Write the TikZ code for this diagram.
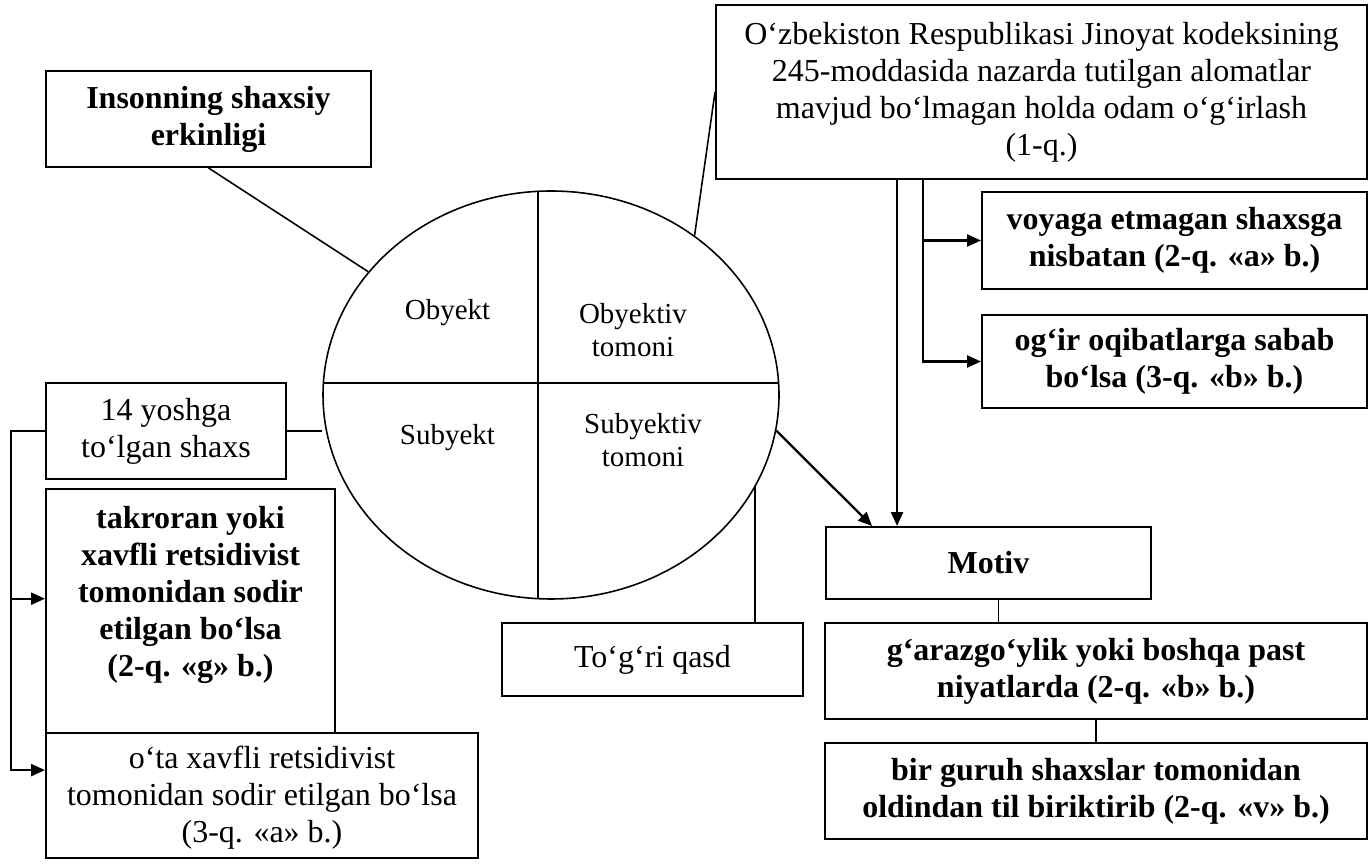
\documentclass[tikz,border=0pt]{standalone}
\usepackage{fontspec}
\setmainfont{Liberation Serif}
\usetikzlibrary{arrows.meta, calc, shapes.geometric}

\newcommand{\boxfont}{\fontsize{18.2}{21}\selectfont}
\newcommand{\partfont}{\fontsize{16.5}{19}\selectfont}

\begin{document}
\begin{tikzpicture}[>={Triangle[length=2.8mm,width=2.4mm]}, line width=0.9pt,
    box/.style={draw, line width=1.1pt, align=center, inner sep=0pt, font=\boxfont},
    bbox/.style={box, font=\boxfont\bfseries},
    quarter/.style={align=center, font=\partfont},
    arr/.style={->, line width=1.3pt}]
  \useasboundingbox (0,0) rectangle (27.4,17.32);

  % tarkib doirasi
  \node[draw, ellipse, minimum width=9.12cm, minimum height=8.16cm, inner sep=0pt] (ell) at (11.02,9.42) {};
  \draw (6.47,9.66) -- (15.57,9.66);
  \draw (10.76,13.49) -- (10.76,5.35);
  \node[quarter] (obj) at (8.95,11.06) {Obyekt};
  \node[quarter] (objside) at (12.66,10.72) {Obyektiv\\tomoni};
  \node[quarter] (sub) at (8.95,8.56) {Subyekt};
  \node[quarter] (subside) at (12.86,8.52) {Subyektiv\\tomoni};

  % bloklar
  \node[bbox, minimum width=6.5cm, minimum height=1.92cm] (ins) at (4.17,14.94) {Insonning shaxsiy\\erkinligi};
  \node[box, minimum width=13.02cm, minimum height=3.48cm] (jk) at (20.83,15.48)
    {O‘zbekiston Respublikasi Jinoyat kodeksining\\245-moddasida nazarda tutilgan alomatlar\\mavjud bo‘lmagan holda odam o‘g‘irlash\\(1-q.)};
  \node[bbox, minimum width=7.7cm, minimum height=1.94cm] (voy) at (23.49,12.51) {voyaga etmagan shaxsga\\nisbatan (2-q. «a» b.)};
  \node[bbox, minimum width=7.7cm, minimum height=1.86cm] (ogir) at (23.49,10.09) {og‘ir oqibatlarga sabab\\bo‘lsa (3-q. «b» b.)};
  \node[box, minimum width=4.8cm, minimum height=1.92cm] (yosh) at (3.32,8.70) {14 yoshga\\to‘lgan shaxs};
  \node[bbox, minimum width=5.78cm, minimum height=4.88cm] (takr) at (3.81,5.10) {};
  \node[align=center, font=\boxfont\bfseries] (takrtxt) at ($(takr.center)+(0,0.32)$)
    {takroran yoki\\xavfli retsidivist\\tomonidan sodir\\etilgan bo‘lsa\\(2-q. «g» b.)};
  \node[box, minimum width=8.64cm, minimum height=2.5cm] (ota) at (5.24,1.41) {};
  \node[align=center, font=\boxfont] (otatxt) at ($(ota.center)+(0,-0.04)$)
    {o‘ta xavfli retsidivist\\tomonidan sodir etilgan bo‘lsa\\(3-q. «a» b.)};
  \node[box, minimum width=6.02cm, minimum height=1.46cm] (tqasd) at (13.05,4.13) {To‘g‘ri qasd};
  \node[bbox, minimum width=6.5cm, minimum height=1.44cm] (motiv) at (19.77,6.06) {Motiv};
  \node[bbox, minimum width=10.84cm, minimum height=1.92cm] (garaz) at (21.92,3.90)
    {g‘arazgo‘ylik yoki boshqa past\\niyatlarda (2-q. «b» b.)};
  \node[bbox, minimum width=10.84cm, minimum height=1.92cm] (bir) at (21.92,1.50)
    {bir guruh shaxslar tomonidan\\oldindan til biriktirib (2-q. «v» b.)};

  % bog'lanishlar
  \coordinate (qs) at (15.1,7.6);
  \coordinate (m2) at ($(motiv.north west)+(1.44,0)$);
  \coordinate (mg) at ($(motiv.south)+(0.2,0)$);
  \coordinate (br) at (18.46,0);
  \coordinate (lft) at (0.22,0);
  \coordinate (a1) at ($(takr.north west)!0.45!(takr.south west)$);
  \coordinate (a2) at ($(ota.north west)!0.3!(ota.south west)$);

  \draw (ins.south) -- (ell.146);
  \draw (jk.west) -- (ell.48);
  \draw (yosh.east) -- (yosh.east -| ell.west);
  \draw (qs) -- (qs |- tqasd.north);
  \draw[arr] (ell.351) -- ($(motiv.north west)+(0.94,0)$);
  \draw[arr, line width=1.5pt] (jk.south -| m2) -- (m2);
  \draw[arr] (jk.south -| br) |- (ogir.west);
  \draw[arr] (voy.west -| br) -- (voy.west);
  \draw[arr] (yosh.west) -| (a2 -| lft) -- (a2);
  \draw[arr] (a1 -| lft) -- (a1);
  \draw (mg) -- (mg |- garaz.north);
  \draw (garaz.south) -- (bir.north);
\end{tikzpicture}
\end{document}
